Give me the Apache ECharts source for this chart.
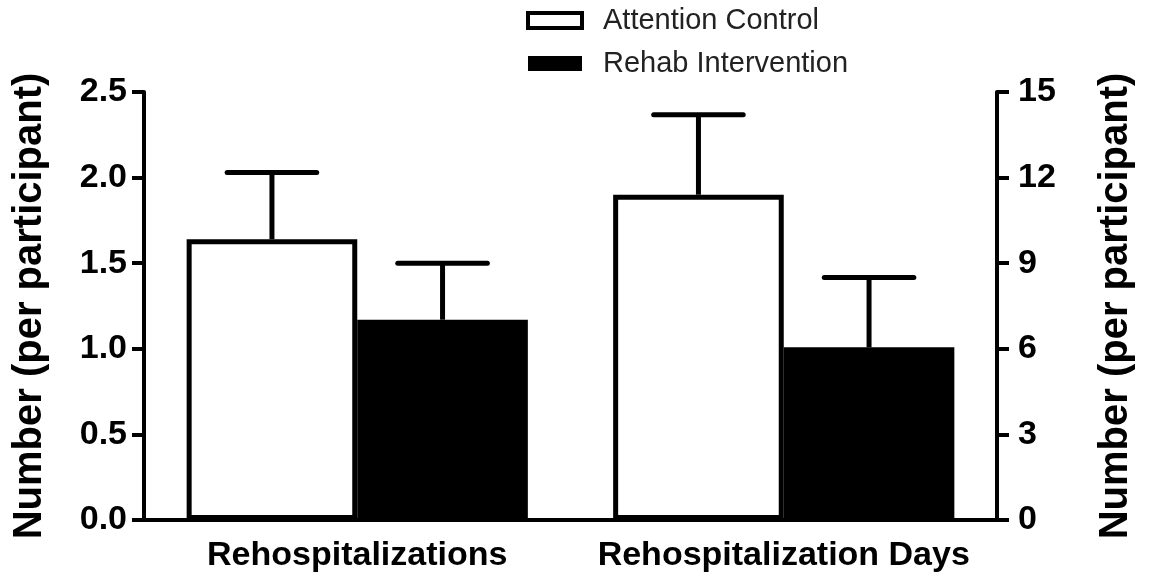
<!DOCTYPE html>
<html>
<head>
<meta charset="utf-8">
<script src="https://cdn.jsdelivr.net/npm/echarts@6/dist/echarts.min.js"></script>
<style>
  html, body { margin: 0; padding: 0; background: #fff; }
  #chart { width: 1149px; height: 578px; }
</style>
</head>
<body>
<div id="chart"></div>
<script>
// ---- data ----
const categories = ['Rehospitalizations', 'Rehospitalization Days'];
const seriesNames = ['Attention Control', 'Rehab Intervention'];
// group 0 -> left axis (count), group 1 -> right axis (days)
const attentionMean = [1.64, 11.4];
const attentionUpper = [2.03, 14.2];
const rehabMean = [1.17, 6.05];
const rehabUpper = [1.50, 8.5];
const leftTicks = [0, 0.5, 1.0, 1.5, 2.0, 2.5];
const rightTicks = [0, 3, 6, 9, 12, 15];

const FONT = "'Liberation Sans', Arial, Helvetica, sans-serif";
const chart = echarts.init(document.getElementById('chart'), null, { renderer: 'canvas' });

const means = [attentionMean, rehabMean];
const uppers = [attentionUpper, rehabUpper];
const styles = [
  { color: '#ffffff', borderColor: '#000000', borderWidth: 5 },
  { color: '#000000', borderColor: '#000000', borderWidth: 0 }
];

const barSeries = [];
seriesNames.forEach(function (name, s) {
  categories.forEach(function (cat, g) {
    barSeries.push({
      name: name,
      type: 'bar',
      yAxisIndex: g,
      stack: 'slot' + s,
      barGap: '0%',
      barCategoryGap: '20%',
      itemStyle: styles[s],
      emphasis: { disabled: true },
      data: categories.map(function (c, k) { return k === g ? means[s][g] : null; }),
      z: 2
    });
  });
});

function errData(g) {
  return seriesNames.map(function (n, s) { return [g, s, means[s][g], uppers[s][g]]; });
}
function renderErr(params, api) {
  const cat = api.value(0), s = api.value(1);
  const band = api.size([1, 0])[0];
  const c = api.coord([cat, api.value(2)]);
  const t = api.coord([cat, api.value(3)]);
  const x = c[0] + (s === 0 ? -0.2 : 0.2) * band;
  const hw = 0.105 * band;
  return {
    type: 'group',
    children: [
      { type: 'line', shape: { x1: x, y1: c[1], x2: x, y2: t[1] }, style: { stroke: '#000', lineWidth: 5 } },
      { type: 'line', shape: { x1: x - hw, y1: t[1], x2: x + hw, y2: t[1] }, style: { stroke: '#000', lineWidth: 5, lineCap: 'round' } }
    ]
  };
}
const errSeries = categories.map(function (c, g) {
  return {
    type: 'custom',
    yAxisIndex: g,
    renderItem: renderErr,
    encode: { x: 0, y: [2, 3] },
    data: errData(g),
    silent: true,
    z: 3
  };
});

const axisCommon = {
  type: 'value',
  nameLocation: 'middle',
  nameRotate: 90,
  nameMoveOverlap: false,
  nameTextStyle: { fontFamily: FONT, fontWeight: 'bold', fontSize: 40, color: '#000' },
  axisLine: { show: true, lineStyle: { color: '#000', width: 4 } },
  axisTick: { show: true, inside: false, length: 12, lineStyle: { color: '#000', width: 4 } },
  splitLine: { show: false },
  axisLabel: { fontFamily: FONT, fontWeight: 'bold', fontSize: 34, color: '#000' }
};

chart.setOption({
  animation: false,
  backgroundColor: '#ffffff',
  grid: { left: 144, right: 152, top: 92, bottom: 58, outerBoundsMode: 'none' },
  legend: {
    orient: 'vertical',
    left: 521,
    top: 1,
    itemWidth: 54,
    itemHeight: 15,
    itemGap: 14,
    selectedMode: false,
    textStyle: { fontFamily: FONT, fontSize: 29, color: '#222', lineHeight: 28, padding: [0, 0, 0, 16] },
    data: [
      { name: seriesNames[0], icon: 'rect', itemStyle: { color: '#fff', borderColor: '#000', borderWidth: 4 } },
      { name: seriesNames[1], icon: 'rect', itemStyle: { color: '#000', borderColor: '#000', borderWidth: 0 } }
    ]
  },
  xAxis: {
    type: 'category',
    data: categories,
    axisLine: { show: true, lineStyle: { color: '#000', width: 4 } },
    axisTick: { show: false },
    axisLabel: { interval: 0, fontFamily: FONT, fontWeight: 'bold', fontSize: 34, color: '#000', margin: 19 }
  },
  yAxis: [
    Object.assign({}, axisCommon, {
      position: 'left',
      min: leftTicks[0], max: leftTicks[leftTicks.length - 1], interval: 0.5,
      name: 'Number (per participant)',
      nameGap: 94,
      axisLabel: Object.assign({}, axisCommon.axisLabel, { margin: 17, formatter: function (v) { return v.toFixed(1); } })
    }),
    Object.assign({}, axisCommon, {
      position: 'right',
      min: rightTicks[0], max: rightTicks[rightTicks.length - 1], interval: 3,
      name: 'Number (per participant)',
      nameGap: 99,
      axisLabel: Object.assign({}, axisCommon.axisLabel, { margin: 21 })
    })
  ],
  series: barSeries.concat(errSeries)
});
</script>
</body>
</html>
